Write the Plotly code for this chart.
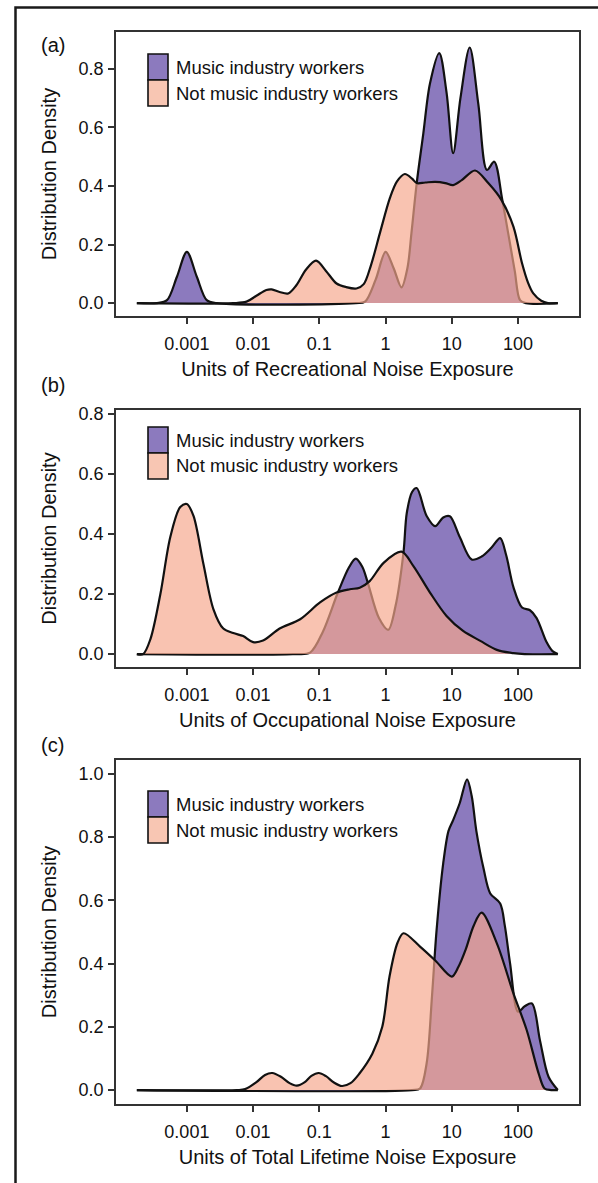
import numpy as np
import plotly.graph_objects as go

W, H = 598, 1183

# ---------------- data (x given as log10 of exposure units) ----------------
# Panel (a): Recreational noise exposure
a_music_logx = [-3.755, -3.45, -3.3, -3.15, -3.0, -2.85, -2.7, -2.55, -0.45, -0.31, -0.15, 0.0, 0.12,
                0.24, 0.33, 0.39, 0.47, 0.57, 0.67, 0.81, 0.92, 1.02, 1.13, 1.27, 1.40, 1.53, 1.64,
                1.76, 1.85, 1.95, 2.03, 2.12, 2.6]
a_music_dens = [0, 0, 0.01, 0.09, 0.175, 0.09, 0.01, 0, 0, 0.005, 0.08, 0.175, 0.12,
                0.054, 0.12, 0.238, 0.41, 0.58, 0.75, 0.854, 0.72, 0.512, 0.70, 0.873, 0.68, 0.455, 0.483,
                0.355, 0.24, 0.11, 0.01, 0, 0]
a_other_logx = [-3.755, -2.3, -2.1, -1.95, -1.8, -1.72, -1.6, -1.47, -1.35, -1.2, -1.05, -0.9, -0.74,
                -0.6, -0.44, -0.33, -0.22, -0.085, 0.067, 0.17, 0.29, 0.40, 0.47, 0.6, 0.75, 0.9, 1.02,
                1.15, 1.35, 1.55, 1.75, 1.93, 2.06, 2.15, 2.23, 2.35, 2.45, 2.6]
a_other_dens = [0, 0, 0.005, 0.025, 0.045, 0.047, 0.038, 0.033, 0.06, 0.115, 0.145, 0.11, 0.067,
                0.055, 0.05, 0.065, 0.13, 0.24, 0.36, 0.415, 0.441, 0.425, 0.41, 0.412, 0.414, 0.41, 0.403,
                0.42, 0.453, 0.41, 0.352, 0.261, 0.136, 0.07, 0.033, 0.008, 0, 0]

# Panel (b): Occupational noise exposure
b_music_logx = [-3.755, -1.4, -1.14, -0.95, -0.72, -0.55, -0.45, -0.35, -0.27, -0.1, 0.04, 0.15, 0.27,
                0.32, 0.40, 0.47, 0.62, 0.75, 0.87, 0.97, 1.12, 1.30, 1.45, 1.6, 1.73, 1.82, 1.93, 2.06,
                2.18, 2.28, 2.43, 2.52, 2.6]
b_music_dens = [0, 0, 0.005, 0.073, 0.205, 0.29, 0.318, 0.29, 0.239, 0.12, 0.081, 0.16, 0.338,
                0.47, 0.54, 0.553, 0.46, 0.426, 0.455, 0.459, 0.39, 0.315, 0.325, 0.355, 0.386, 0.33, 0.223, 0.155,
                0.146, 0.12, 0.04, 0.01, 0]
b_other_logx = [-3.755, -3.66, -3.55, -3.4, -3.25, -3.1, -3.0, -2.9, -2.75, -2.6, -2.45, -2.3, -2.15,
                -2.0, -1.85, -1.6, -1.29, -0.99, -0.74, -0.54, -0.39, -0.24, -0.03, 0.24, 0.42, 0.67,
                0.92, 1.17, 1.43, 1.68, 1.93, 2.1, 2.6]
b_other_dens = [0, 0, 0.05, 0.2, 0.39, 0.49, 0.5, 0.46, 0.3, 0.15, 0.085, 0.07, 0.06,
                0.04, 0.045, 0.085, 0.116, 0.172, 0.205, 0.216, 0.221, 0.243, 0.304, 0.341, 0.293, 0.205,
                0.127, 0.077, 0.044, 0.014, 0.003, 0, 0]

# Panel (c): Total lifetime noise exposure
c_music_logx = [-3.755, 0.4, 0.52, 0.62, 0.70, 0.77, 0.87, 0.95, 1.02, 1.12, 1.23, 1.30, 1.37, 1.48,
                1.58, 1.73, 1.80, 1.88, 2.0, 2.1, 2.21, 2.33, 2.46, 2.6]
c_music_dens = [0, 0, 0.005, 0.085, 0.295, 0.506, 0.717, 0.82, 0.854, 0.908, 0.983, 0.93, 0.82, 0.70,
                0.622, 0.59, 0.52, 0.40, 0.248, 0.265, 0.274, 0.158, 0.042, 0]
c_other_logx = [-3.755, -2.25, -2.12, -1.95, -1.82, -1.71, -1.58, -1.45, -1.34, -1.22, -1.12, -1.01,
                -0.9, -0.78, -0.66, -0.53, -0.40, -0.20, -0.05, 0.06, 0.18, 0.27, 0.52, 0.75, 1.0, 1.1,
                1.21, 1.33, 1.45, 1.68, 1.93, 2.13, 2.31, 2.40, 2.5, 2.6]
c_other_dens = [0, 0, 0.003, 0.025, 0.048, 0.054, 0.042, 0.022, 0.014, 0.025, 0.045, 0.054,
                0.044, 0.024, 0.013, 0.022, 0.051, 0.115, 0.2, 0.36, 0.466, 0.496, 0.454, 0.41, 0.359, 0.39,
                0.445, 0.52, 0.561, 0.464, 0.306, 0.19, 0.053, 0.005, 0, 0]

tick_logs = [-3, -2, -1, 0, 1, 2]
tick_labels = ["0.001", "0.01", "0.1", "1", "10", "100"]
series_names = ["Music industry workers", "Not music industry workers"]
panel_letters = ["(a)", "(b)", "(c)"]
x_titles = ["Units of Recreational Noise Exposure",
            "Units of Occupational Noise Exposure",
            "Units of Total Lifetime Noise Exposure"]
y_title = "Distribution Density"
y_ticks = [[0.0, 0.2, 0.4, 0.6, 0.8], [0.0, 0.2, 0.4, 0.6, 0.8], [0.0, 0.2, 0.4, 0.6, 0.8, 1.0]]

# ---------------- style ----------------
FONT = "Liberation Sans, Arial, Helvetica, sans-serif"
PURPLE = "#8C7ABE"
PEACH_FILL = "rgba(246,166,140,0.68)"
PEACH_KEY = "#F8C6B3"
INK = "#111111"

panels = [
    dict(top=32, bottom=316, yr=[-0.044, 0.926], label_y=45, key_top=54,
         mx=a_music_logx, my=a_music_dens, ox=a_other_logx, oy=a_other_dens),
    dict(top=410, bottom=667, yr=[-0.043, 0.813], label_y=385, key_top=427,
         mx=b_music_logx, my=b_music_dens, ox=b_other_logx, oy=b_other_dens),
    dict(top=760, bottom=1104, yr=[-0.044, 1.044], label_y=745, key_top=791,
         mx=c_music_logx, my=c_music_dens, ox=c_other_logx, oy=c_other_dens),
]
PX_LEFT, PX_RIGHT = 116, 579
XR = [-4.07, 2.92]


def px(xp):
    return xp / W


def py(yp):
    return 1 - yp / H


fig = go.Figure()
shapes = []
annotations = []

for i, p in enumerate(panels):
    n = "" if i == 0 else str(i + 1)
    xa, ya = "x" + n, "y" + n
    fig.add_trace(go.Scatter(
        x=10 ** np.array(p["mx"]), y=p["my"], xaxis=xa, yaxis=ya,
        mode="lines", line=dict(color=INK, width=2.2, shape="spline", smoothing=0.9),
        fill="tozeroy", fillcolor=PURPLE, name=series_names[0], showlegend=False,
        hoverinfo="skip"))
    fig.add_trace(go.Scatter(
        x=10 ** np.array(p["ox"]), y=p["oy"], xaxis=xa, yaxis=ya,
        mode="lines", line=dict(color=INK, width=2.2, shape="spline", smoothing=0.9),
        fill="tozeroy", fillcolor=PEACH_FILL, name=series_names[1], showlegend=False,
        hoverinfo="skip"))

    axis_common = dict(showgrid=False, zeroline=False, showline=True, mirror=True,
                       linecolor="#333333", linewidth=1.6, ticks="outside", ticklen=6,
                       tickwidth=1.6, tickcolor="#333333",
                       tickfont=dict(family=FONT, size=18, color=INK), automargin=False)
    fig.layout["xaxis" + n] = dict(
        axis_common, type="log", range=XR, anchor=ya,
        domain=[px(PX_LEFT), px(PX_RIGHT)],
        tickvals=[10 ** t for t in tick_logs], ticktext=tick_labels, ticklabelstandoff=5,
        title=dict(text=x_titles[i], font=dict(family=FONT, size=20, color=INK), standoff=9))
    fig.layout["yaxis" + n] = dict(
        axis_common, range=p["yr"], anchor=xa,
        domain=[py(p["bottom"]), py(p["top"])],
        tickvals=y_ticks[i], ticktext=["%.1f" % v for v in y_ticks[i]], ticklabelstandoff=1,
        title=dict(text=y_title, font=dict(family=FONT, size=20, color=INK), standoff=17))

    annotations.append(dict(text=panel_letters[i], x=px(39), y=py(p["label_y"]), xref="paper",
                            yref="paper", xanchor="left", yanchor="middle", showarrow=False,
                            font=dict(family=FONT, size=20, color=INK)))
    kt = p["key_top"]
    for j, col in enumerate([PURPLE, PEACH_KEY]):
        y0 = kt + j * 26
        shapes.append(dict(type="rect", xref="paper", yref="paper",
                           x0=px(148), x1=px(168), y0=py(y0 + 26), y1=py(y0),
                           fillcolor=col, line=dict(color=INK, width=1.6)))
        annotations.append(dict(text=series_names[j], x=px(174), y=py(y0 + 13), xref="paper",
                                yref="paper", xanchor="left", yanchor="middle", showarrow=False,
                                font=dict(family=FONT, size=18.5, color=INK)))

# outer frame (left and top edges visible)
shapes.append(dict(type="rect", xref="paper", yref="paper",
                   x0=px(15.5), x1=px(720), y0=py(1300), y1=py(7.5),
                   line=dict(color="#1a1a1a", width=2.5), fillcolor="rgba(0,0,0,0)"))

fig.update_layout(width=W, height=H, margin=dict(l=0, r=0, t=0, b=0),
                  paper_bgcolor="white", plot_bgcolor="white", template="none",
                  showlegend=False, shapes=shapes, annotations=annotations,
                  font=dict(family=FONT, color=INK))

fig.write_html("out.html", config={"displayModeBar": False},
               post_script="document.body.style.margin='0';document.body.style.padding='0';"
                           "document.body.style.overflow='hidden';")
